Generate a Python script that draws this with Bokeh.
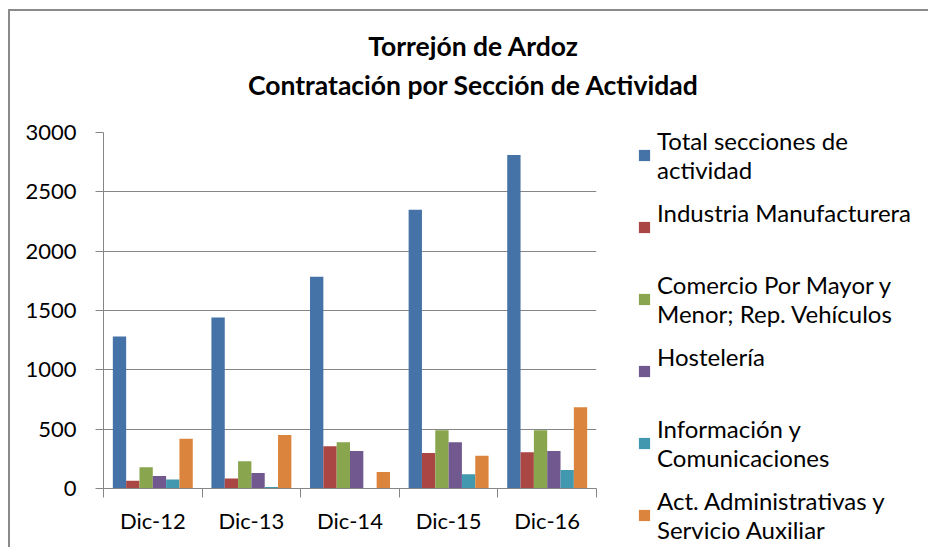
from bokeh.plotting import figure
from bokeh.models import Range1d, FixedTicker, Legend, LegendItem, LinearAxis
from bokeh.embed import file_html
from bokeh.resources import INLINE

periods = ["Dic-12", "Dic-13", "Dic-14", "Dic-15", "Dic-16"]
series_names = [
    "Total secciones de\nactividad",
    "Industria Manufacturera",
    "Comercio Por Mayor y\nMenor; Rep. Vehículos",
    "Hostelería",
    "Información y\nComunicaciones",
    "Act. Administrativas y\nServicio Auxiliar",
]
total = [1280, 1440, 1785, 2350, 2810]
industria = [65, 85, 355, 300, 305]
comercio = [180, 230, 390, 490, 490]
hosteleria = [105, 130, 315, 390, 315]
informacion = [75, 12, 0, 120, 155]
act_admin = [420, 450, 140, 275, 685]
y_ticks = [0, 500, 1000, 1500, 2000, 2500, 3000]
title_lines = ["Torrejón de Ardoz", "Contratación por Sección de Actividad"]

series_values = [total, industria, comercio, hosteleria, informacion, act_admin]
colors = ["#4572A7", "#AA4643", "#89A54E", "#71588F", "#4198AF", "#DB843D"]

FONT = "Lato"
GRID = "#868686"

p = figure(frame_width=493, frame_height=356, x_range=Range1d(0, len(periods)),
           y_range=Range1d(0, 3000), output_backend="svg", toolbar_location=None,
           title=None,
           min_border_left=93, min_border_right=332, min_border_top=121,
           min_border_bottom=59)
p.styles = {"border-left": "2px solid #8a8a8a", "border-top": "2px solid #8a8a8a",
            "margin-left": "8px", "margin-top": "9px"}
p.outline_line_color = None
p.background_fill_color = "white"
p.border_fill_color = "white"

n = len(series_values)
w = 1.0 / (n + 1.4)
items = []
for j, (name, vals, col) in enumerate(zip(series_names, series_values, colors)):
    xs = [i + 0.5 + (j - (n - 1) / 2) * w for i in range(len(periods))]
    r = p.vbar(x=xs, top=vals, width=w, fill_color=col, line_color=None)
    # every legend entry reserves two text lines, as in the original
    label = name if "\n" in name else name + "\n "
    items.append(LegendItem(label=label, renderers=[r]))

# axes
p.xaxis.ticker = FixedTicker(ticks=[i + 0.5 for i in range(len(periods))],
                             minor_ticks=list(range(len(periods) + 1)))
p.xaxis.major_label_overrides = {i + 0.5: lab for i, lab in enumerate(periods)}
p.xaxis.major_tick_out = 0
p.xaxis.major_tick_in = 0
p.xaxis.minor_tick_out = 9
p.xaxis.minor_tick_in = 0
p.xaxis.minor_tick_line_color = GRID
p.xaxis.axis_line_color = GRID
p.xaxis.major_label_standoff = 9

p.yaxis.ticker = FixedTicker(ticks=y_ticks, minor_ticks=[])
p.yaxis.major_tick_out = 8
p.yaxis.major_tick_in = 0
p.yaxis.major_tick_line_color = GRID
p.yaxis.axis_line_color = GRID
p.yaxis.major_label_standoff = 19

for ax in (p.xaxis, p.yaxis):
    ax.major_label_text_font = FONT
    ax.major_label_text_font_size = "22px"
    ax.major_label_text_color = "black"

p.xgrid.visible = False
p.ygrid.grid_line_color = GRID
p.ygrid.ticker = FixedTicker(ticks=y_ticks)

# chart title: two centred lines drawn as label-only axes above the plot area
title_x = 3.753
for txt, standoff in ((title_lines[1], 32), (title_lines[0], 4)):
    tax = LinearAxis(ticker=FixedTicker(ticks=[title_x], minor_ticks=[]),
                     major_label_overrides={title_x: txt},
                     axis_line_color=None, major_tick_line_color=None,
                     minor_tick_line_color=None, major_tick_out=0, major_tick_in=0,
                     minor_tick_out=0, minor_tick_in=0,
                     major_label_standoff=standoff,
                     major_label_text_font=FONT, major_label_text_font_size="26.5px",
                     major_label_text_font_style="bold", major_label_text_color="black")
    p.add_layout(tax, "above")

legend = Legend(items=items, location=(41, -57), orientation="vertical",
                padding=0, margin=0, spacing=12, label_height=60,
                glyph_width=14, glyph_height=14, label_standoff=6,
                label_text_font=FONT, label_text_font_size="24px",
                label_text_color="black",
                border_line_color=None, background_fill_alpha=0)
p.add_layout(legend, "right")

open("out.html", "w").write(file_html(p, INLINE))
